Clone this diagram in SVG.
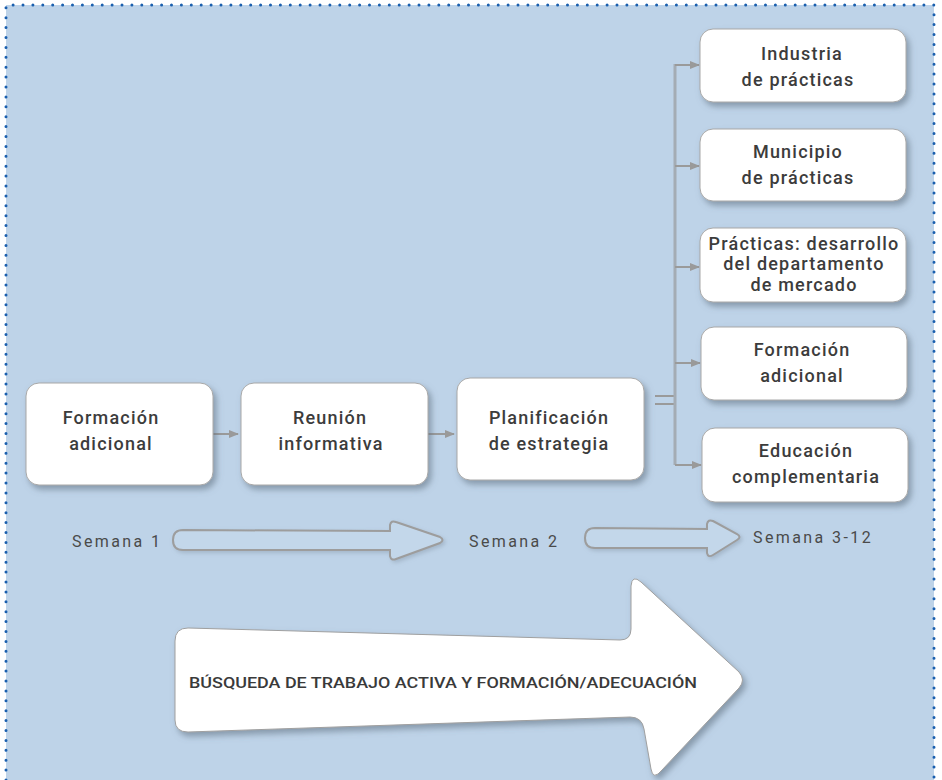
<svg xmlns="http://www.w3.org/2000/svg" width="942" height="780" viewBox="0 0 942 780">
<defs>
<filter id="sh" x="-10%" y="-10%" width="130%" height="140%">
<feDropShadow dx="3" dy="4" stdDeviation="3" flood-color="#5a6a7a" flood-opacity="0.55"/>
</filter>
<filter id="sh2" x="-10%" y="-10%" width="130%" height="140%">
<feDropShadow dx="2" dy="2" stdDeviation="2" flood-color="#7a8a9a" flood-opacity="0.4"/>
</filter>
<marker id="ah" viewBox="0 0 10 10" refX="9" refY="5" markerWidth="10" markerHeight="10" markerUnits="userSpaceOnUse" orient="auto">
<path d="M0,1 L10,5 L0,9 Z" fill="#9a9a9a"/>
</marker>
</defs>
<style>
.box{fill:#ffffff;stroke:#a8a8a8;stroke-width:1;filter:url(#sh)}
.t{font-family:Roboto,"Liberation Sans",sans-serif;font-size:18px;font-weight:500;fill:#3c3c3c;text-anchor:middle;letter-spacing:1.2px}
.sem{font-family:Roboto,"Liberation Sans",sans-serif;font-size:16px;fill:#4a4a4a;letter-spacing:2.4px}
.conn{stroke:#9a9a9a;stroke-width:2;fill:none}
.outline{fill:#c3d7ea;stroke:#9d9d9d;stroke-width:2;filter:url(#sh2)}
</style>
<rect x="6" y="5" width="928" height="775" fill="#bed3e8"/>
<g id="border" fill="none" stroke="#1a5fae" stroke-width="3" stroke-linecap="round" stroke-dasharray="0 9.9">
<path d="M6,780 L6,5 L934,5 L934,780"/>
</g>

<g id="connectors">
<line class="conn" x1="213" y1="434" x2="238" y2="434" marker-end="url(#ah)"/>
<line class="conn" x1="428" y1="434" x2="454" y2="434" marker-end="url(#ah)"/>
<line class="conn" x1="655" y1="396" x2="675" y2="396"/>
<line class="conn" x1="655" y1="404" x2="675" y2="404"/>
<line x1="675" y1="64" x2="675" y2="465" stroke="#a4acb4" stroke-width="3"/>
<line class="conn" x1="675" y1="65" x2="699" y2="65" marker-end="url(#ah)"/>
<line class="conn" x1="675" y1="166" x2="699" y2="166" marker-end="url(#ah)"/>
<line class="conn" x1="675" y1="267" x2="699" y2="267" marker-end="url(#ah)"/>
<line class="conn" x1="675" y1="363" x2="700" y2="363" marker-end="url(#ah)"/>
<line class="conn" x1="675" y1="465" x2="701" y2="465" marker-end="url(#ah)"/>
</g>

<g id="n1"><rect class="box" x="26" y="383" width="187" height="102" rx="13"/>
<text class="t" x="111" y="424">Formación</text><text class="t" x="111" y="450">adicional</text></g>
<g id="n2"><rect class="box" x="241" y="383" width="187" height="102" rx="13"/>
<text class="t" x="330" y="424">Reunión</text><text class="t" x="331" y="450">informativa</text></g>
<g id="n3"><rect class="box" x="457" y="378" width="187" height="102" rx="13"/>
<text class="t" x="549" y="424">Planificación</text><text class="t" x="549" y="450">de estrategia</text></g>
<g id="n4"><rect class="box" x="700" y="29" width="206" height="73" rx="13"/>
<text class="t" x="802" y="60">Industria</text><text class="t" x="798" y="86">de prácticas</text></g>
<g id="n5"><rect class="box" x="700" y="129" width="206" height="72" rx="13"/>
<text class="t" x="798" y="158">Municipio</text><text class="t" x="798" y="184">de prácticas</text></g>
<g id="n6"><rect class="box" x="700" y="228" width="206" height="74" rx="13"/>
<text class="t" x="804" y="250">Prácticas: desarrollo</text><text class="t" x="804" y="270">del departamento</text><text class="t" x="804" y="291">de mercado</text></g>
<g id="n7"><rect class="box" x="701" y="327" width="206" height="73" rx="13"/>
<text class="t" x="802" y="356">Formación</text><text class="t" x="802" y="382">adicional</text></g>
<g id="n8"><rect class="box" x="702" y="428" width="206" height="74" rx="13"/>
<text class="t" x="806" y="457">Educación</text><text class="t" x="806" y="483">complementaria</text></g>

<g id="timeline">
<text class="sem" x="72" y="547">Semana 1</text>
<path class="outline" d="M183 530 L390 531 L390 525 Q391 520 396 522 L440 537 Q445 540 440 543 L396 559 Q391 561 390 556 L390 550 L183 550 Q173 550 173 540 Q173 530 183 530 Z"/>
<text class="sem" x="469" y="547">Semana 2</text>
<path class="outline" d="M595 528 L707 529 L707 524 Q708 519 713 521 L737 534 Q742 537 737 540 L713 555 Q708 558 707 553 L707 548 L595 548 Q585 548 585 538 Q585 528 595 528 Z"/>
<text class="sem" x="753" y="543">Semana 3-12</text>
</g>

<g id="bigarrow">
<path d="M175 641 Q175 628 188 628 L620 640 Q631 640 631 629 L631 586 Q632 574 641 582 L739 672 Q746 680 739 688 L662 770 Q653 781 651 769 L644 729 Q642 717 630 717 L188 732 Q175 732 175 720 Z" fill="#ffffff" stroke="#a0a0a0" stroke-width="1" filter="url(#sh)"/>
<text x="189" y="688" textLength="508" lengthAdjust="spacingAndGlyphs" style="font-family:Roboto,'Liberation Sans',sans-serif;font-size:15.5px;font-weight:500;fill:#3a3a3a">BÚSQUEDA DE TRABAJO ACTIVA Y FORMACIÓN/ADECUACIÓN</text>
</g>
</svg>
